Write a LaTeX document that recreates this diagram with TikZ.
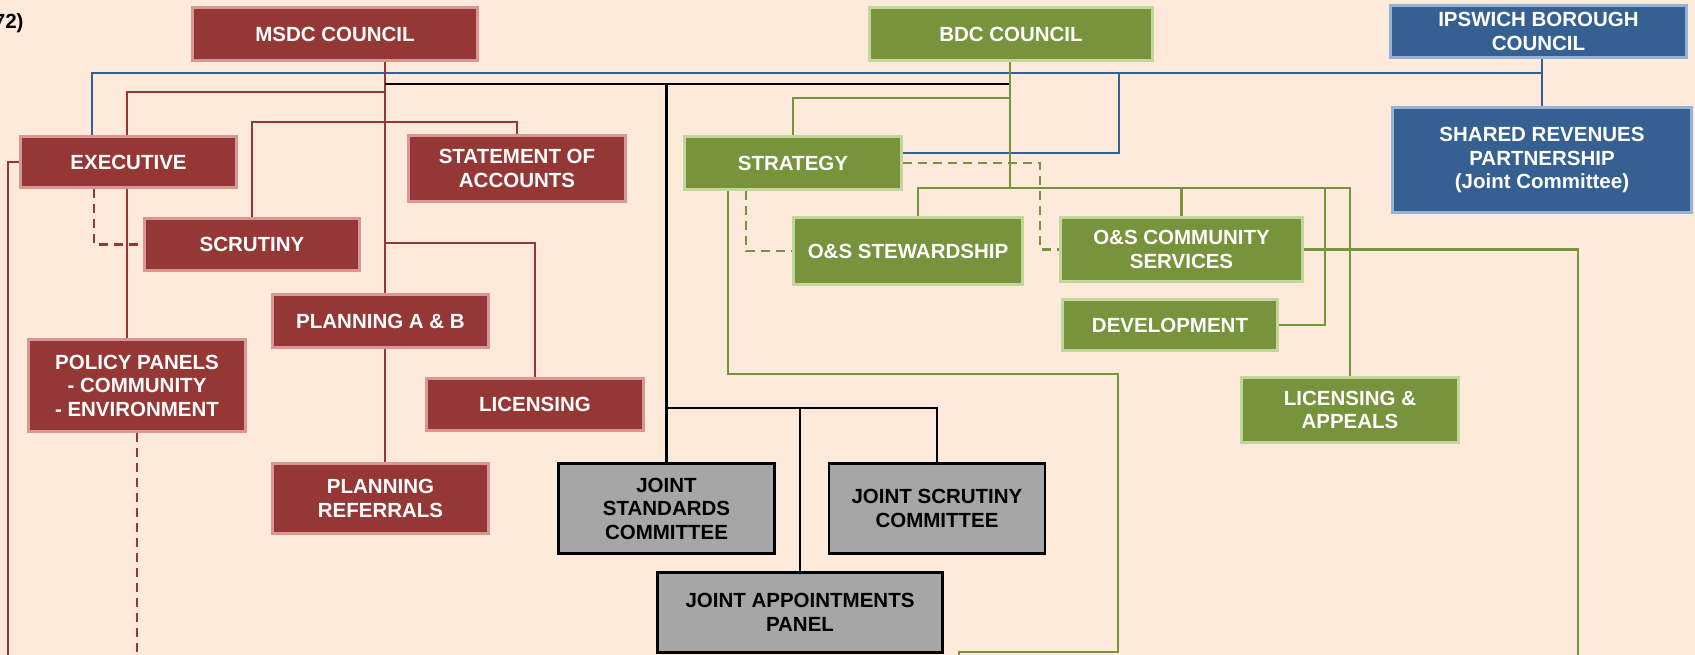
\documentclass[tikz,border=0pt]{standalone}
\usepackage{fontspec}
\setmainfont{Liberation Sans}
\usetikzlibrary{calc}
\definecolor{bgc}{HTML}{FDEADA}
\definecolor{rdark}{HTML}{953735}
\definecolor{rlight}{HTML}{D99694}
\definecolor{gdark}{HTML}{77933C}
\definecolor{glight}{HTML}{C3D69B}
\definecolor{bdark}{HTML}{376092}
\definecolor{blight}{HTML}{95B3D7}
\definecolor{greyc}{HTML}{A6A6A6}
\pgfdeclarelayer{bg}
\pgfsetlayers{bg,main}
\begin{document}
\begin{tikzpicture}[x=1pt,y=-1pt,
 base/.style={line width=3pt, align=center, inner sep=0pt, font=\bfseries\fontsize{20.5}{23.5}\selectfont},
 redbox/.style={base, draw=rlight, fill=rdark, text=white},
 greenbox/.style={base, draw=glight, fill=gdark, text=white},
 bluebox/.style={base, draw=blight, fill=bdark, text=white},
 greybox/.style={base, draw=black, fill=greyc, text=black, line width=2.6pt},
 wh/.style 2 args={minimum width=#1 pt, minimum height=#2 pt},
 rline/.style={draw=rdark, line width=2.2pt},
 rdash/.style={rline, dash pattern=on 9pt off 6pt},
 gline/.style={draw=gdark, line width=2.2pt},
 gdash/.style={gline, dash pattern=on 9pt off 6pt},
 bline/.style={draw=bdark, line width=2.6pt},
 kline/.style={draw=black, line width=2.8pt},
]
\useasboundingbox (0,0) rectangle (1695,655);
\begin{pgfonlayer}{bg}
\fill[bgc] (0,0) rectangle (1695,655);
\end{pgfonlayer}

\node[base, text=black, anchor=east] (lbl) at (25,23) {72)};

% red
\node[redbox, wh={285}{53}] (msdc) at (335,34) {MSDC COUNCIL};
\node[redbox, wh={216}{51}] (executive) at (128.5,162) {EXECUTIVE};
\node[redbox, wh={217}{66}] (statement) at (517,168.5) {STATEMENT OF\\ACCOUNTS};
\node[redbox, wh={215}{52}] (scrutiny) at (252,244.5) {SCRUTINY};
\node[redbox, wh={216}{53}] (planab) at (380.5,321) {PLANNING A \& B};
\node[redbox, wh={216.5}{92}] (policy) at (137,385.5) {POLICY PANELS\\- COMMUNITY\\- ENVIRONMENT};
\node[redbox, wh={217}{52}] (licensing) at (535,404.5) {LICENSING};
\node[redbox, wh={216}{70}] (planref) at (380.5,498.5) {PLANNING\\REFERRALS};

% grey
\node[greybox, wh={216.4}{90.4}] (jstand) at (666.5,508.5) {JOINT\\STANDARDS\\COMMITTEE};
\node[greybox, wh={216}{90.4}] (jscrut) at (937,508.5) {JOINT SCRUTINY\\COMMITTEE};
\node[greybox, wh={285.4}{80.4}] (jappt) at (800,612.5) {JOINT APPOINTMENTS\\PANEL};

% green
\node[greenbox, wh={283}{53}] (bdc) at (1011,34) {BDC COUNCIL};
\node[greenbox, wh={217}{53}] (strategy) at (793,163) {STRATEGY};
\node[greenbox, wh={229}{67}] (osstew) at (908,251) {O\&S STEWARDSHIP};
\node[greenbox, wh={242}{64}] (oscomm) at (1181.5,249.5) {O\&S COMMUNITY\\SERVICES};
\node[greenbox, wh={215}{51}] (develop) at (1170,325) {DEVELOPMENT};
\node[greenbox, wh={217.5}{65}] (licapp) at (1350,410) {LICENSING \&\\APPEALS};

% blue
\node[bluebox, wh={296}{52}] (ipswich) at (1538.5,31.5) {IPSWICH BOROUGH\\COUNCIL};
\node[bluebox, wh={299}{105}] (shared) at (1542,160) {SHARED REVENUES\\PARTNERSHIP\\(Joint Committee)};

% coordinates
\coordinate (xr) at (385,0);
\coordinate (r1) at (385,92);
\coordinate (r2) at (385,122);
\coordinate (r3) at (385,243);
\coordinate (xe) at (127,0);
\coordinate (xd) at (94,0);
\coordinate (ebot) at (8,655);
\coordinate (pbot) at (137,655);
\coordinate (b1) at (92,73);
\coordinate (xbj) at (1542,73);
\coordinate (b2) at (1119,73);
\coordinate (k1) at (385,84);
\coordinate (k2) at (1010,84);
\coordinate (k3) at (666.5,408);
\coordinate (xg) at (1010,0);
\coordinate (g98) at (1010,98);
\coordinate (g188) at (1010,188);
\coordinate (xs) at (918,0);
\coordinate (xdv) at (1325,0);
\coordinate (g1578) at (1578,655);
\coordinate (xs2) at (728,0);
\coordinate (gc1) at (1118,374);
\coordinate (gc3) at (1118,652);
\coordinate (gc2) at (959,655);
\coordinate (gd1) at (1040,0);
\coordinate (xd2) at (746,0);

\begin{pgfonlayer}{bg}
% blue
\draw[bline] (executive.north -| b1) |- (xbj);
\draw[bline] (ipswich.south -| xbj) -- (shared.north -| xbj);
\draw[bline] (b2) |- ([yshift=10pt]strategy.east);
% red
\draw[rline] (msdc.south -| xr) -- (planab.north -| xr);
\draw[rline] (planab.south -| xr) -- (planref.north -| xr);
\draw[rline] (r1) -| (executive.north -| xe);
\draw[rline] (executive.south -| xe) -- (policy.north -| xe);
\draw[rline] (scrutiny.north) |- (statement.north |- r2) -- (statement.north);
\draw[rline] (r3) -| (licensing.north);
\draw[rline] (executive.west) -| (ebot);
\draw[rdash] (executive.south -| xd) |- (scrutiny.west);
\draw[rdash] (policy.south) -- (pbot);
% black
\draw[kline] (k1) -- (k2);
\draw[kline] (jstand.north) -- (jstand.north |- k1);
\draw[kline] (k3) -| (jscrut.north);
\draw[kline] (jappt.north) -- (jappt.north |- k3);
% green
\draw[gline] (bdc.south -| xg) -- (g188);
\draw[gline] (strategy.north) |- (g98);
\draw[gline] (osstew.north -| xs) |- (licapp.north |- g188) -- (licapp.north);
\draw[gline] (oscomm.north) -- (oscomm.north |- g188);
\draw[gline] (develop.east) -| (xdv |- g188);
\draw[gline] (oscomm.east) -| (g1578);
\draw[gline] (strategy.south -| xs2) |- (gc1) -- (gc3) -| (gc2);
\draw[gdash] (strategy.east) -| (gd1 |- oscomm.west) -- (oscomm.west);
\draw[gdash] (strategy.south -| xd2) |- (osstew.west);
\end{pgfonlayer}
\end{tikzpicture}
\end{document}
